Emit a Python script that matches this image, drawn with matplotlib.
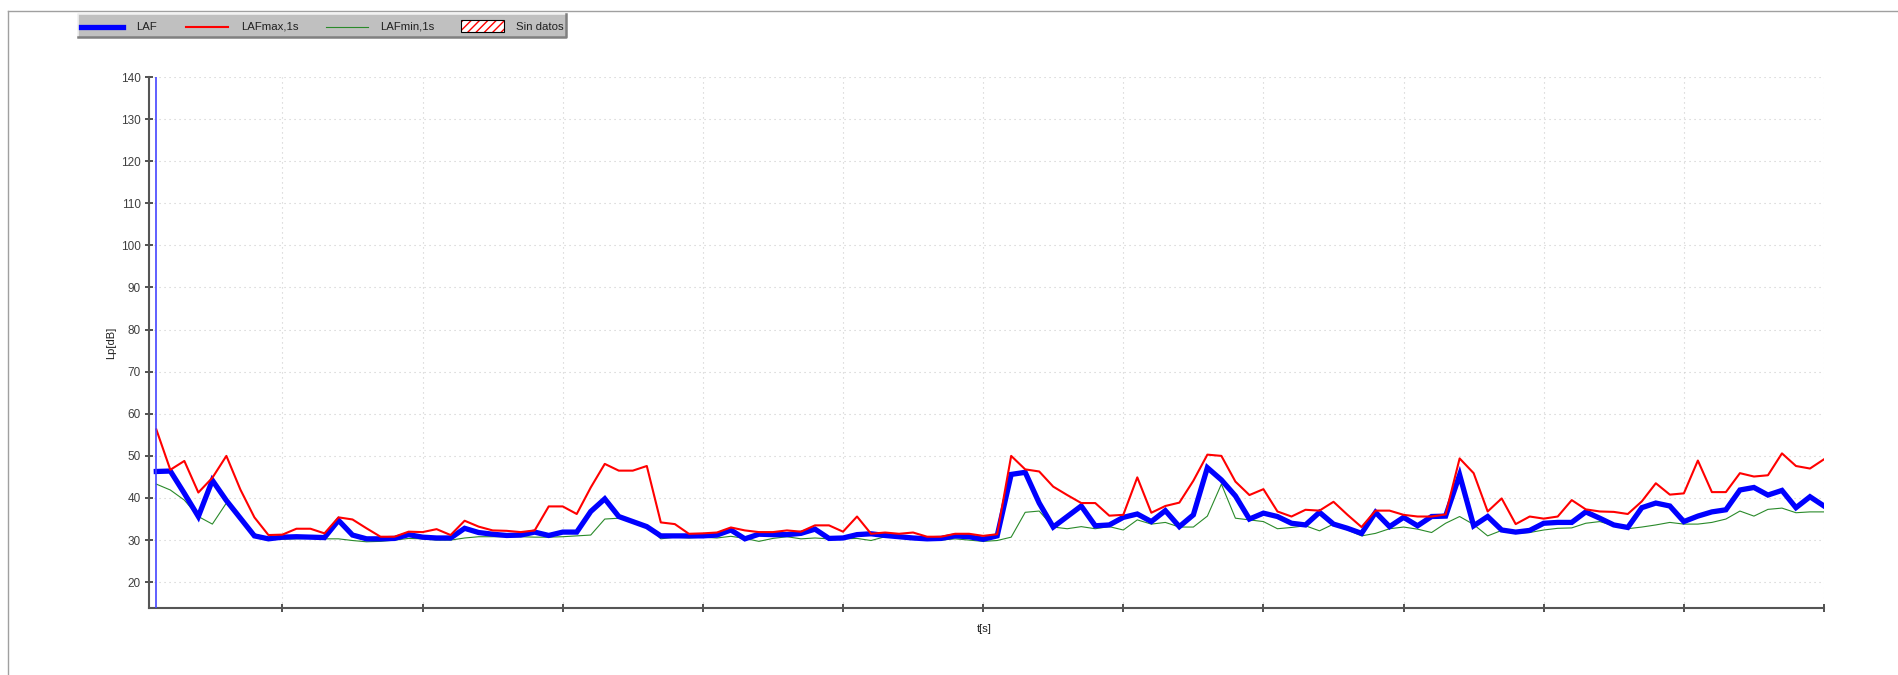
import numpy as np
import matplotlib
matplotlib.use("Agg")
import matplotlib.pyplot as plt
from matplotlib.lines import Line2D
from matplotlib.patches import Rectangle

plt.rcParams['font.family'] = ['Liberation Sans', 'DejaVu Sans']

#~~~~~~Data (one value per second)~~~~~~
laf = [46.3, 46.4, 41.1, 35.6, 44.2, 39.4, 35.2, 31.0, 30.3, 30.7,
       30.8, 30.7, 30.6, 34.7, 31.2, 30.3, 30.3, 30.4, 31.3, 30.7,
       30.5, 30.5, 32.8, 31.8, 31.4, 31.1, 31.2, 31.9, 31.1, 31.9,
       31.9, 36.8, 39.8, 35.6, 34.4, 33.2, 31.0, 31.0, 31.0, 31.0,
       31.2, 32.4, 30.3, 31.4, 31.3, 31.3, 31.6, 32.6, 30.4, 30.5,
       31.3, 31.5, 31.1, 30.8, 30.5, 30.3, 30.4, 31.0, 30.8, 30.2,
       31.0, 45.6, 46.1, 38.8, 33.1, 35.6, 38.1, 33.4, 33.6, 35.4,
       36.2, 34.4, 37.0, 33.2, 36.0, 47.2, 44.3, 40.5, 35.0, 36.4,
       35.6, 34.0, 33.6, 36.6, 33.8, 32.8, 31.6, 36.6, 33.2, 35.4,
       33.4, 35.6, 35.7, 45.5, 33.4, 35.6, 32.4, 31.9, 32.3, 34.0,
       34.2, 34.2, 36.7, 35.2, 33.6, 33.0, 37.7, 38.8, 38.1, 34.4,
       35.7, 36.7, 37.2, 41.9, 42.5, 40.7, 41.8, 37.7, 40.3, 38.1]

laf_max = [56.3, 46.7, 48.8, 41.3, 44.8, 50.0, 42.0, 35.4, 31.2, 31.3,
           32.7, 32.7, 31.6, 35.4, 34.9, 32.8, 30.8, 30.8, 32.0, 31.9,
           32.6, 31.2, 34.6, 33.2, 32.3, 32.2, 31.9, 32.3, 38.0, 38.0,
           36.2, 42.5, 48.1, 46.5, 46.5, 47.6, 34.2, 33.8, 31.5, 31.6,
           31.8, 33.0, 32.3, 31.9, 31.9, 32.3, 32.0, 33.5, 33.5, 32.0,
           35.6, 31.5, 31.8, 31.5, 31.8, 30.8, 30.8, 31.5, 31.5, 31.0,
           31.4, 50.0, 46.8, 46.3, 42.7, 40.7, 38.8, 38.8, 35.8, 36.0,
           44.9, 36.5, 38.1, 38.9, 44.1, 50.3, 50.0, 43.9, 40.7, 42.1,
           36.8, 35.6, 37.2, 37.0, 39.1, 36.0, 33.1, 37.0, 37.0, 36.0,
           35.6, 35.6, 36.1, 49.4, 45.9, 36.8, 39.9, 33.8, 35.6, 35.1,
           35.6, 39.5, 37.3, 36.8, 36.7, 36.2, 39.2, 43.5, 40.8, 41.1,
           48.9, 41.4, 41.4, 45.9, 45.1, 45.4, 50.6, 47.6, 47.0, 49.2]

laf_min = [43.3, 41.9, 39.5, 35.6, 33.8, 38.8, 34.8, 31.5, 30.4, 30.2,
           30.3, 30.4, 30.3, 30.3, 29.9, 29.6, 29.7, 30.0, 30.4, 30.3,
           30.0, 30.0, 30.5, 30.8, 30.8, 30.8, 30.8, 30.7, 30.7, 30.8,
           31.0, 31.2, 35.0, 35.2, 34.6, 33.5, 30.3, 30.7, 30.5, 30.7,
           30.5, 30.9, 30.4, 29.7, 30.4, 30.8, 30.3, 30.5, 30.3, 30.3,
           30.4, 29.9, 30.8, 30.5, 30.5, 30.4, 30.0, 30.3, 30.0, 29.7,
           29.9, 30.7, 36.6, 36.9, 33.1, 32.7, 33.2, 32.7, 33.2, 32.4,
           34.8, 33.8, 34.2, 33.1, 33.1, 35.7, 43.3, 35.2, 34.8, 34.4,
           32.7, 33.0, 33.4, 32.2, 33.8, 32.4, 31.0, 31.6, 32.7, 33.1,
           32.6, 31.8, 34.0, 35.6, 33.7, 31.0, 32.3, 31.6, 31.8, 32.4,
           32.8, 32.9, 34.0, 34.4, 33.4, 32.7, 33.1, 33.6, 34.2, 33.8,
           33.8, 34.2, 35.0, 36.9, 35.7, 37.3, 37.6, 36.5, 36.7, 36.7]

t = np.arange(len(laf))
y_ticks = list(range(20, 141, 10))
x_ticks = list(range(9, len(laf), 10))
legend_labels = ['LAF', 'LAFmax,1s', 'LAFmin,1s', 'Sin datos']

#~~~~~~Figure~~~~~~
W, H = 1898, 675
fig = plt.figure(figsize=(W / 100, H / 100), dpi=100)

def fx(x):
    return x / W

def fy(y):
    return 1 - y / H

# outer frame (cut by the image edges)
fig.add_artist(Line2D([fx(8), fx(8)], [fy(11), fy(H + 5)], color='#a0a0a0', lw=1.0))
fig.add_artist(Line2D([fx(8), fx(W + 5)], [fy(11), fy(11)], color='#a0a0a0', lw=1.0))

ax_l, ax_r, ax_t, ax_b = 149.3, 1824.0, 77.0, 608.3
ax = fig.add_axes([fx(ax_l), fy(ax_b), (ax_r - ax_l) / W, (ax_b - ax_t) / H])

ax.plot(t, laf_min, color='#2a8a2a', lw=0.8, zorder=3)
ax.plot(t, laf, color='#0000ff', lw=3.8, zorder=4, solid_joinstyle='miter')
ax.plot(t, laf_max, color='#ff0000', lw=1.5, zorder=5)
ax.axvline(t[0], color='#4444ff', lw=1.2, zorder=6)

ax.set_xlim(-0.5, len(laf) - 1)
ax.set_ylim(13.8, 140)
ax.set_yticks(y_ticks)
ax.set_xticks(x_ticks)
ax.set_xticklabels([])
ax.grid(True, color='#cccccc', lw=0.8, linestyle=(0, (1, 3.5)))
ax.set_axisbelow(True)

for s in ['top', 'right']:
    ax.spines[s].set_visible(False)
for s in ['left', 'bottom']:
    ax.spines[s].set_color('#555555')
    ax.spines[s].set_linewidth(1.5)
ax.tick_params(direction='inout', length=6, width=1.2, color='#333333',
               labelsize=8.5, labelcolor='#404040', pad=3)

ax.text(-0.0229, 0.5, 'Lp[dB]', transform=ax.transAxes, rotation=90,
        ha='center', va='center', fontsize=8, color='#202020')
ax.text(0.4986, -0.039, 't[s]', transform=ax.transAxes,
        ha='center', va='center', fontsize=8, color='#202020')

#~~~~~~Legend bar~~~~~~
lg_l, lg_r, lg_t, lg_b = 78, 566, 14, 37
fig.add_artist(Rectangle((fx(lg_l), fy(lg_b)), (lg_r - lg_l) / W, (lg_b - lg_t) / H,
                         transform=fig.transFigure, facecolor='#c0c0c0', edgecolor='none'))
fig.add_artist(Line2D([fx(lg_l), fx(lg_l), fx(lg_r)], [fy(lg_b), fy(lg_t), fy(lg_t)],
                      color='#f0f0f0', lw=1.2))
fig.add_artist(Line2D([fx(lg_l), fx(lg_r), fx(lg_r)], [fy(lg_b), fy(lg_b), fy(lg_t)],
                      color='#808080', lw=1.8))

swatch_x = [81, 186, 325.6, 461]
styles = [('#0000ff', 3.8), ('#ff0000', 1.5), ('#2a8a2a', 0.8)]
cy = 26.5
for i, lab in enumerate(legend_labels):
    x0 = swatch_x[i]
    if i < 3:
        c, lw = styles[i]
        fig.add_artist(Line2D([fx(x0), fx(x0 + 42)], [fy(cy), fy(cy)], color=c, lw=lw))
    else:
        fig.add_artist(Rectangle((fx(x0), fy(32)), 43 / W, 12 / H, transform=fig.transFigure,
                                 facecolor='white', edgecolor='#ff0000', hatch='////', lw=0))
        fig.add_artist(Rectangle((fx(x0), fy(32)), 43 / W, 12 / H, transform=fig.transFigure,
                                 facecolor='none', edgecolor='black', lw=0.8))
    fig.text(fx(x0 + 55), fy(cy), lab, ha='left', va='center', fontsize=8.2, color='#202020')

fig.savefig('out.png', dpi=100)
